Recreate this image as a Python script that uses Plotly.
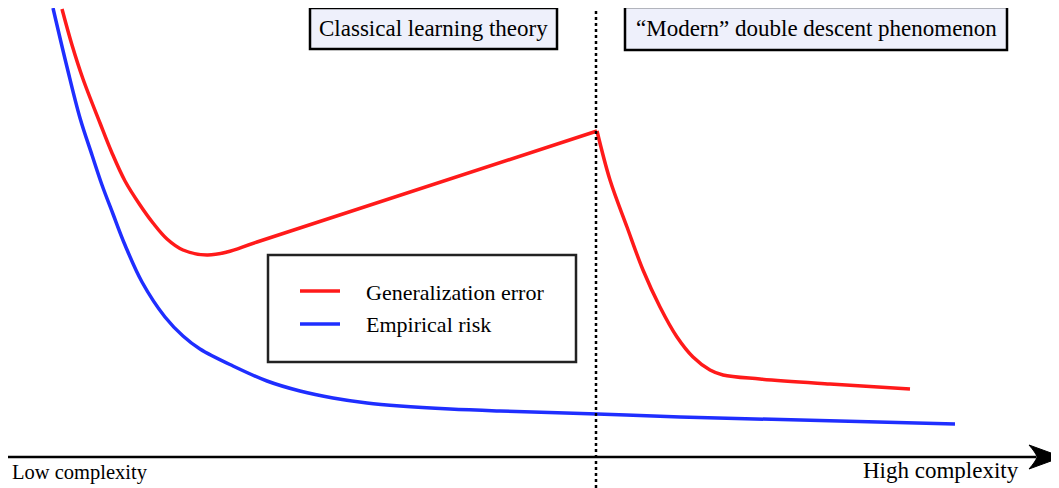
import plotly.graph_objects as go

# Model complexity (horizontal) and error level (vertical, 0 = complexity axis)
gen_x_classical = [62, 72, 83, 100, 112, 125, 140, 153, 167, 183, 207, 227, 257, 597]
gen_y_classical = [448, 412, 378, 334, 304, 276, 252, 234, 218, 207, 202, 205, 215, 326]

gen_x_modern = [597, 610, 627, 643, 660, 677, 693, 710, 723, 760, 830, 910]
gen_y_modern = [326, 277, 230, 187, 150, 120, 100, 87, 82, 78, 73, 68]

emp_x = [53, 67, 80, 92, 102, 113, 125, 142, 165, 183, 200, 233, 267, 300,
         333, 367, 400, 450, 500, 597, 680, 955]
emp_y = [449, 390, 339, 302, 272, 243, 212, 175, 140, 121, 108, 91, 76, 66,
         59, 54, 51, 48, 46, 43, 40, 33]

threshold_x = 596  # interpolation threshold

RED = "#ff1a1a"
BLUE = "#1f2eff"
BOX_FILL = "#eef0fb"
FONT = "Liberation Serif, Times New Roman, serif"

fig = go.Figure()
fig.add_trace(go.Scatter(
    x=gen_x_classical, y=gen_y_classical, mode="lines",
    line=dict(color=RED, width=3.5, shape="spline", smoothing=1.0),
    name="Generalization error", showlegend=False, hoverinfo="skip",
))
fig.add_trace(go.Scatter(
    x=gen_x_modern, y=gen_y_modern, mode="lines",
    line=dict(color=RED, width=3.5, shape="spline", smoothing=1.0),
    name="Generalization error", showlegend=False, hoverinfo="skip",
))
fig.add_trace(go.Scatter(
    x=emp_x, y=emp_y, mode="lines",
    line=dict(color=BLUE, width=3.5, shape="spline", smoothing=1.0),
    name="Empirical risk", showlegend=False, hoverinfo="skip",
))

shapes = [
    # complexity axis with arrow
    dict(type="line", x0=8, x1=1036, y0=0, y1=0, line=dict(color="black", width=2.5)),
    dict(type="path", path="M 1029,12 Q 1036,4 1037,0 Q 1036,-4 1029,-12 L 1062,0 Z",
         fillcolor="black", line=dict(color="black", width=1)),
    # threshold
    dict(type="line", x0=threshold_x, x1=threshold_x, y0=-31, y1=452,
         line=dict(color="black", width=2.5, dash="dot")),
    # regime boxes
    dict(type="rect", x0=310, x1=557, y0=408, y1=449, fillcolor=BOX_FILL,
         line=dict(color="black", width=2.5)),
    dict(type="rect", x0=625, x1=1007, y0=407, y1=450, fillcolor=BOX_FILL,
         line=dict(color="black", width=2.5)),
    # legend
    dict(type="rect", x0=268, x1=576, y0=95, y1=202, fillcolor="white",
         line=dict(color="#222222", width=2.5)),
    dict(type="line", x0=300, x1=340, y0=166, y1=166, line=dict(color=RED, width=3.5)),
    dict(type="line", x0=300, x1=340, y0=133, y1=133, line=dict(color=BLUE, width=3.5)),
]

annotations = [
    dict(x=433, y=429, text="Classical learning theory", font=dict(size=23)),
    dict(x=816, y=429, text="\u201cModern\u201d double descent phenomenon", font=dict(size=23)),
    dict(x=364, y=165, text="Generalization error", xanchor="left", font=dict(size=22)),
    dict(x=364, y=133, text="Empirical risk", xanchor="left", font=dict(size=22)),
    dict(x=10, y=-15, text="Low complexity", xanchor="left", font=dict(size=20.5)),
    dict(x=1021, y=-13, text="High complexity", xanchor="right", font=dict(size=23)),
]
for a in annotations:
    a.update(showarrow=False, xref="x", yref="y")
    a.setdefault("xanchor", "center")
    a["yanchor"] = "middle"
    a["font"].update(family=FONT, color="black")

# the page body has an 8px margin, so the figure covers x 8..1059, y 8..488 of the window
fig.update_layout(
    width=1051, height=480,
    margin=dict(l=0, r=0, t=0, b=0),
    paper_bgcolor="white", plot_bgcolor="white",
    xaxis=dict(range=[8, 1059], visible=False, fixedrange=True),
    yaxis=dict(range=[-31, 449], visible=False, fixedrange=True),
    shapes=shapes,
    annotations=annotations,
    showlegend=False,
)

fig.write_html("out.html")
